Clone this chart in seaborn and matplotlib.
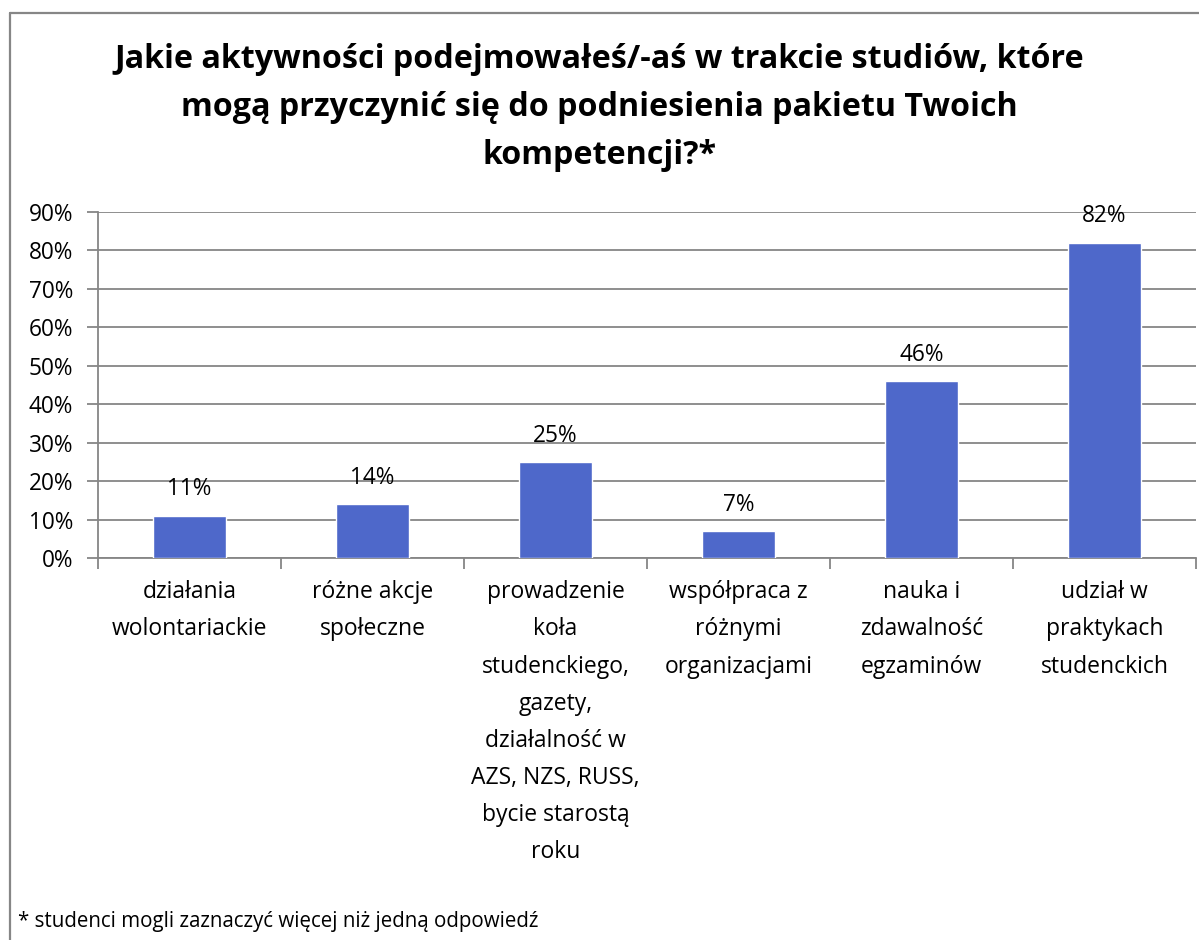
import matplotlib
matplotlib.use("Agg")
import matplotlib.pyplot as plt
import seaborn as sns
import pandas as pd
from matplotlib.lines import Line2D
from matplotlib.ticker import FuncFormatter, FixedLocator

categories = [
    "działania\nwolontariackie",
    "różne akcje\nspołeczne",
    "prowadzenie\nkoła\nstudenckiego,\ngazety,\ndziałalność w\nAZS, NZS, RUSS,\nbycie starostą\nroku",
    "współpraca z\nróżnymi\norganizacjami",
    "nauka i\nzdawalność\negzaminów",
    "udział w\npraktykach\nstudenckich",
]
values = [11, 14, 25, 7, 46, 82]

title = ("Jakie aktywności podejmowałeś/-aś w trakcie studiów, które\n"
         "mogą przyczynić się do podniesienia pakietu Twoich\n"
         "kompetencji?*")
footnote = "* studenci mogli zaznaczyć więcej niż jedną odpowiedź"

df = pd.DataFrame({"cat": categories, "val": values})

sns.set_theme(style="white")
plt.rcParams["font.family"] = ["Open Sans", "DejaVu Sans"]
plt.rcParams["text.color"] = "black"

W, H = 1199, 940
fig = plt.figure(figsize=(W / 100, H / 100), dpi=100)
ax = fig.add_axes([98 / W, 1 - 558 / H, (1196 - 98) / W, (558 - 212) / H])

grid_col = "#868686"
sns.barplot(data=df, x="cat", y="val", color="#4E68CA", width=0.4,
            saturation=1, ax=ax, zorder=3)

ax.set_ylim(0, 90)
ax.set_xlim(-0.5, len(categories) - 0.5)
ax.set_yticks(range(0, 91, 10))
ax.yaxis.set_major_formatter(FuncFormatter(lambda v, p: f"{int(v)}%"))
ax.grid(axis="y", color=grid_col, linewidth=1.3, zorder=0)
ax.set_axisbelow(True)

for s in ["top", "right"]:
    ax.spines[s].set_visible(False)
for s in ["left", "bottom"]:
    ax.spines[s].set_color(grid_col)
    ax.spines[s].set_linewidth(1.3)

ax.tick_params(axis="y", left=True, length=8, width=1.3, color=grid_col,
               labelsize=16.3, pad=10, labelcolor="black")
ax.tick_params(axis="x", which="major", bottom=False, labelsize=16.5,
               pad=10, labelcolor="black")
ax.xaxis.set_minor_locator(FixedLocator([i - 0.5 for i in range(len(categories) + 1)]))
ax.tick_params(axis="x", which="minor", bottom=True, length=8, width=1.3,
               color=grid_col)
for lbl in ax.get_xticklabels():
    lbl.set_linespacing(1.73)
    lbl.set_verticalalignment("top")
ax.set_xlabel("")
ax.set_ylabel("")

for i, v in enumerate(values):
    ax.annotate(f"{v}%", (i, v), xytext=(0, 19), textcoords="offset points",
                ha="center", va="center", fontsize=16.3)

fig.text(0.5, 1 - 108 / H, title, ha="center", va="center", fontsize=23.2,
         fontweight="bold", linespacing=1.6)
fig.text(18 / W, 1 - 921 / H, footnote, ha="left", va="center", fontsize=14.8)

# chart area border (left and top edges visible)
fig.add_artist(Line2D([9.5 / W, 9.5 / W], [1 - 13 / H, -0.1], color=grid_col,
                      linewidth=1.6, transform=fig.transFigure))
fig.add_artist(Line2D([9.5 / W, 1.1], [1 - 13 / H, 1 - 13 / H], color=grid_col,
                      linewidth=1.6, transform=fig.transFigure))

fig.savefig("out.png", dpi=100)
